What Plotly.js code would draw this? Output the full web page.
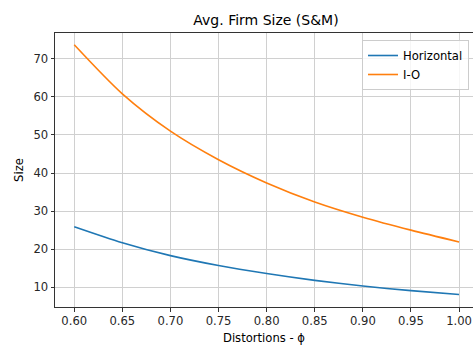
<!DOCTYPE html>
<html>
<head>
<meta charset="utf-8">
<script src="https://cdn.plot.ly/plotly-3.0.1.min.js"></script>
<style>
html, body { margin: 0; padding: 0; overflow: hidden; background: #fff; }
#chart { width: 473px; height: 345px; }
</style>
</head>
<body>
<div id="chart"></div>
<script>
const phi = [0.60, 0.65, 0.70, 0.75, 0.80, 0.85, 0.90, 0.95, 1.00];
const horizontal = [25.9, 21.7, 18.3, 15.7, 13.6, 11.8, 10.3, 9.1, 8.1];
const io = [73.7, 60.8, 51.0, 43.5, 37.4, 32.4, 28.4, 25.0, 21.9];
const seriesNames = ["Horizontal", "I-O"];
const titleText = "Avg. Firm Size (S&M)";
const xLabel = "Distortions - ϕ";
const yLabel = "Size";

const font = "DejaVu Sans, sans-serif";
const small = 11.6;

const traces = [
  { x: phi, y: horizontal, name: seriesNames[0], mode: "lines",
    line: { color: "#1f77b4", width: 1.6, shape: "spline", smoothing: 0.8 } },
  { x: phi, y: io, name: seriesNames[1], mode: "lines",
    line: { color: "#ff7f0e", width: 1.6, shape: "spline", smoothing: 0.8 } }
];

const axisCommon = {
  showline: true, linecolor: "#333333", linewidth: 1,
  ticks: "outside", ticklen: 3.5, tickwidth: 1, tickcolor: "#333333",
  showgrid: true, gridcolor: "#d0d0d0", gridwidth: 1,
  zeroline: false,
  tickfont: { family: font, size: small, color: "#262626" }
};

const layout = {
  width: 473, height: 345,
  margin: { l: 55, r: 0, t: 33, b: 38 },
  paper_bgcolor: "#ffffff", plot_bgcolor: "#ffffff",
  title: { text: titleText, font: { family: font, size: 14, color: "#000" },
           x: 266 / 473, xref: "container", xanchor: "center",
           y: 1 - 20 / 345, yref: "container", yanchor: "middle" },
  xaxis: Object.assign({}, axisCommon, {
    range: [0.58, 1.0145], tick0: 0.6, dtick: 0.05, tickformat: ".2f",
    mirror: true,
    title: { text: xLabel, font: { family: font, size: small, color: "#000" }, standoff: 6 }
  }),
  yaxis: Object.assign({}, axisCommon, {
    range: [4.8, 76.8], tick0: 10, dtick: 10,
    mirror: false,
    title: { text: yLabel, font: { family: font, size: small, color: "#000" }, standoff: 7 }
  }),
  showlegend: true,
  legend: {
    x: (362 - 55) / 418, y: 1 - 7 / 274, xanchor: "left", yanchor: "top",
    bgcolor: "rgba(255,255,255,0.8)", bordercolor: "#cccccc", borderwidth: 1,
    font: { family: font, size: small, color: "#000" },
    tracegroupgap: 0
  }
};

Plotly.newPlot("chart", traces, layout, { staticPlot: true, displayModeBar: false });
</script>
</body>
</html>
